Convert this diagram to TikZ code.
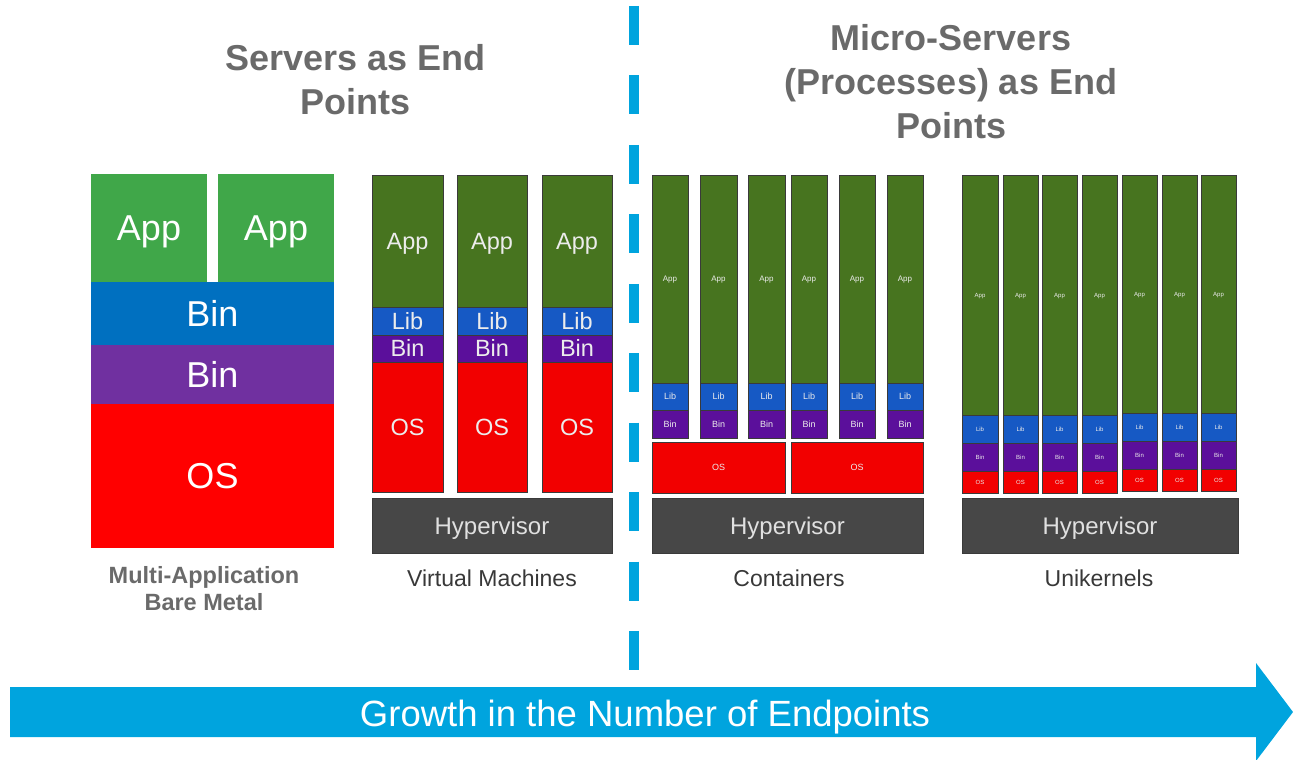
\documentclass[tikz,border=0pt]{standalone}
\usepackage{fontspec}
\setmainfont{Liberation Sans}

% palette
\definecolor{bmgreen}{RGB}{64,167,73}
\definecolor{bmblue}{RGB}{0,112,192}
\definecolor{bmpurple}{RGB}{112,48,160}
\definecolor{bmred}{RGB}{255,0,0}
\definecolor{vmgreen}{RGB}{71,116,31}
\definecolor{vmblue}{RGB}{22,89,196}
\definecolor{vmpurple}{RGB}{91,15,155}
\definecolor{vmred}{RGB}{242,0,0}
\definecolor{hyper}{RGB}{71,71,71}
\definecolor{edge}{RGB}{58,58,58}
\definecolor{softwhite}{RGB}{236,236,236}
\definecolor{titlegray}{RGB}{106,106,106}
\definecolor{labelgray}{RGB}{56,56,56}
\definecolor{flowblue}{RGB}{0,164,222}

\newcommand\fsz[1]{\fontsize{#1}{#1}\selectfont}
% set a label so that its capitals sit centred on the node centre
\newcommand\capcentre[1]{\raisebox{-0.36em}[0pt][0pt]{#1}}

% \stackbox{name}{x1}{y1}{x2}{y2}{style}{text}
\newcommand\stackbox[7]{%
  \node[#6, minimum width={(#4)-(#2)}, minimum height={(#5)-(#3)}]
    (#1) at ({((#2)+(#4))/2},{((#3)+(#5))/2}) {\capcentre{#7}};}

\tikzset{
  layer/.style={rectangle, inner sep=0pt, outer sep=0pt, text=white},
  bmlayer/.style={layer, font=\fsz{36}},
  thinlayer/.style={layer, draw=edge, line width=0.8pt, text=softwhite},
  vmlayer/.style={thinlayer, font=\fsz{23.5}},
  hyplayer/.style={thinlayer, fill=hyper, text={rgb,255:red,224;green,224;blue,224}, font=\fsz{24}},
  title/.style={text=titlegray, font=\bfseries\fontsize{36}{44}\selectfont, align=center},
  caption/.style={text=labelgray, font=\fsz{23}},
  bmcaption/.style={text=titlegray, font=\bfseries\fontsize{23.5}{27}\selectfont, align=center},
}

\begin{document}
\begin{tikzpicture}[x=1pt,y=-1pt]
\useasboundingbox (0,0) rectangle (1293,760);

% ---- section titles
\node[title] (ttlservers) at (355.5,80) {Servers as End\\Points};
\node[title] (ttlmicro) at (951,82) {Micro-Servers\\(Processes) as End\\Points};

% ---- divider
\coordinate (divtop) at (634,6);
\coordinate (divbot) at (634,670);
\draw[flowblue, line width=10pt, dash pattern=on 39pt off 30.44pt] (divtop) -- (divbot);

% ---- multi-application bare metal
\stackbox{bmapp1}{91}{174}{207}{282}{bmlayer, fill=bmgreen}{App}
\stackbox{bmapp2}{218}{174}{334}{282}{bmlayer, fill=bmgreen}{App}
\stackbox{bmlib}{91}{282}{334}{345}{bmlayer, fill=bmblue}{Bin}
\stackbox{bmbin}{91}{345}{334}{404}{bmlayer, fill=bmpurple}{Bin}
\stackbox{bmos}{91}{404}{334}{548}{bmlayer, fill=bmred}{OS}
\node[bmcaption] (bmcap) at (204,589) {Multi-Application\\Bare Metal};

% ---- virtual machines
\foreach \a/\b [count=\i] in {372/443,457/527,542/612}{
  \stackbox{vmapp\i}{\a}{175}{\b}{307}{vmlayer, fill=vmgreen}{App}
  \stackbox{vmlib\i}{\a}{307}{\b}{335}{vmlayer, fill=vmblue}{Lib}
  \stackbox{vmbin\i}{\a}{335}{\b}{362}{vmlayer, fill=vmpurple}{Bin}
  \stackbox{vmos\i}{\a}{362}{\b}{492}{vmlayer, fill=vmred}{OS}
}
\stackbox{vmhyp}{372}{498}{612}{553}{hyplayer}{Hypervisor}
\node[caption] (vmcap) at (492,578) {Virtual Machines};

% ---- containers
\foreach \a/\b [count=\i] in {652/688,700/737,748/785,791/827,839/875,887/923}{
  \stackbox{ctapp\i}{\a}{175}{\b}{383}{thinlayer, fill=vmgreen, font=\fsz{8}}{App}
  \stackbox{ctlib\i}{\a}{383}{\b}{410}{thinlayer, fill=vmblue, font=\fsz{9}}{Lib}
  \stackbox{ctbin\i}{\a}{410}{\b}{438}{thinlayer, fill=vmpurple, font=\fsz{9}}{Bin}
}
\stackbox{ctos1}{652}{442}{785}{493}{thinlayer, fill=vmred, font=\fsz{9}}{OS}
\stackbox{ctos2}{791}{442}{923}{493}{thinlayer, fill=vmred, font=\fsz{9}}{OS}
\stackbox{cthyp}{652}{498}{923}{553}{hyplayer}{Hypervisor}
\node[caption] (ctcap) at (789,578) {Containers};

% ---- unikernels
\foreach \a/\b/\d [count=\i] in {962/998/0,1003/1038/0,1042/1077/0,1082/1117/0,1122/1157/-2,1162/1197/-2,1201/1236/-2}{
  \stackbox{ukapp\i}{\a}{175}{\b}{415+\d}{thinlayer, fill=vmgreen, font=\fsz{6}}{App}
  \stackbox{uklib\i}{\a}{415+\d}{\b}{443+\d}{thinlayer, fill=vmblue, font=\fsz{6}}{Lib}
  \stackbox{ukbin\i}{\a}{443+\d}{\b}{471+\d}{thinlayer, fill=vmpurple, font=\fsz{6}}{Bin}
  \stackbox{ukos\i}{\a}{471+\d}{\b}{493+\d}{thinlayer, fill=vmred, font=\fsz{6}}{OS}
}
\stackbox{ukhyp}{962}{498}{1238}{553}{hyplayer}{Hypervisor}
\node[caption] (ukcap) at (1099,578) {Unikernels};

% ---- growth arrow
\fill[flowblue] (10,687) -- (1256,687) -- (1256,663) -- (1293,712)
  -- (1256,761) -- (1256,737) -- (10,737) -- cycle;
\node[text=white, font=\fsz{36.5}, inner sep=0pt] (growth) at (645,713)
  {\capcentre{Growth in the Number of Endpoints}};

\end{tikzpicture}
\end{document}
